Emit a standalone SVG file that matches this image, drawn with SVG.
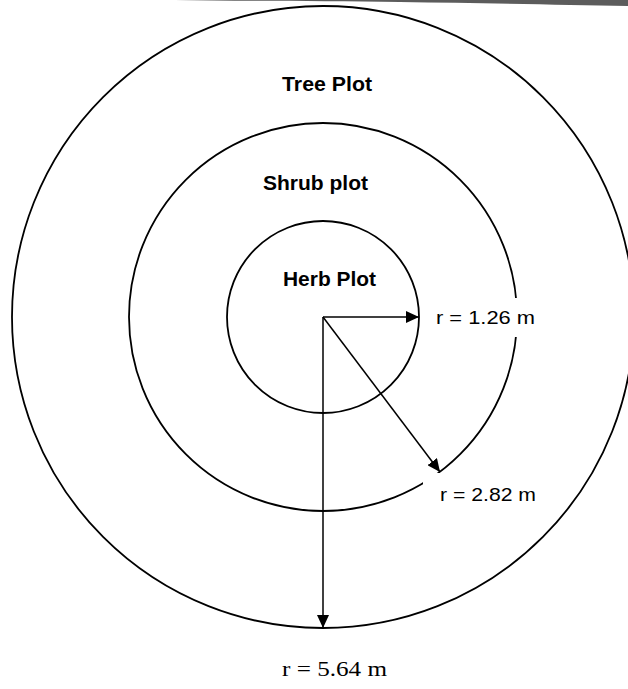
<svg xmlns="http://www.w3.org/2000/svg" width="628" height="689" viewBox="0 0 628 689">
  <style>
    .ring { fill: none; stroke: #000; stroke-width: 1.8; }
    .lbl { font-family: "Liberation Sans", Arial, sans-serif; font-weight: bold; font-size: 21px; fill: #000; }
    .rad { font-family: "Liberation Sans", Arial, sans-serif; font-size: 19px; fill: #000; }
    .radserif { font-family: "Liberation Serif", "Times New Roman", serif; font-size: 21px; fill: #000; }
    .conn { stroke: #000; stroke-width: 1.5; fill: none; marker-end: url(#arrow); }
    .mask { fill: #fff; stroke: none; }
  </style>
  <defs>
    <marker id="arrow" markerUnits="userSpaceOnUse" markerWidth="14" markerHeight="12" refX="13" refY="6" orient="auto">
      <path d="M0,0 L13,6 L0,12 Z" fill="#000"/>
    </marker>
  </defs>
  <rect x="0" y="0" width="628" height="689" fill="#fff"/>
  <path d="M175,0 L628,0 L628,6 C560,5 480,3 400,2 C320,1 240,1 175,0 Z" fill="#333" opacity="0.8"/>

  <g id="tree-plot">
    <circle class="ring" cx="323" cy="317" r="311"/>
    <text class="lbl" x="282" y="91" textLength="90" lengthAdjust="spacingAndGlyphs">Tree Plot</text>
  </g>
  <g id="shrub-plot">
    <circle class="ring" cx="323" cy="317" r="194"/>
    <text class="lbl" x="263" y="190" textLength="105" lengthAdjust="spacingAndGlyphs">Shrub plot</text>
  </g>
  <g id="herb-plot">
    <circle class="ring" cx="323" cy="317" r="96"/>
    <text class="lbl" x="283" y="286" textLength="93" lengthAdjust="spacingAndGlyphs">Herb Plot</text>
  </g>

  <g id="label-r126">
    <rect class="mask" x="429" y="298" width="110" height="39"/>
    <text class="rad" x="436" y="324" textLength="99" lengthAdjust="spacingAndGlyphs">r = 1.26 m</text>
  </g>
  <g id="label-r282">
    <rect class="mask" x="423" y="473" width="117" height="36"/>
    <text class="rad" x="440" y="501" textLength="96" lengthAdjust="spacingAndGlyphs">r = 2.82 m</text>
  </g>
  <g id="label-r564">
    <text class="radserif" x="282" y="676" textLength="105" lengthAdjust="spacingAndGlyphs">r = 5.64 m</text>
  </g>

  <g id="connectors">
    <line class="conn" x1="323" y1="317" x2="419" y2="317"/>
    <line class="conn" x1="323" y1="317" x2="440" y2="472"/>
    <line class="conn" x1="323" y1="317" x2="323" y2="628"/>
  </g>
</svg>
